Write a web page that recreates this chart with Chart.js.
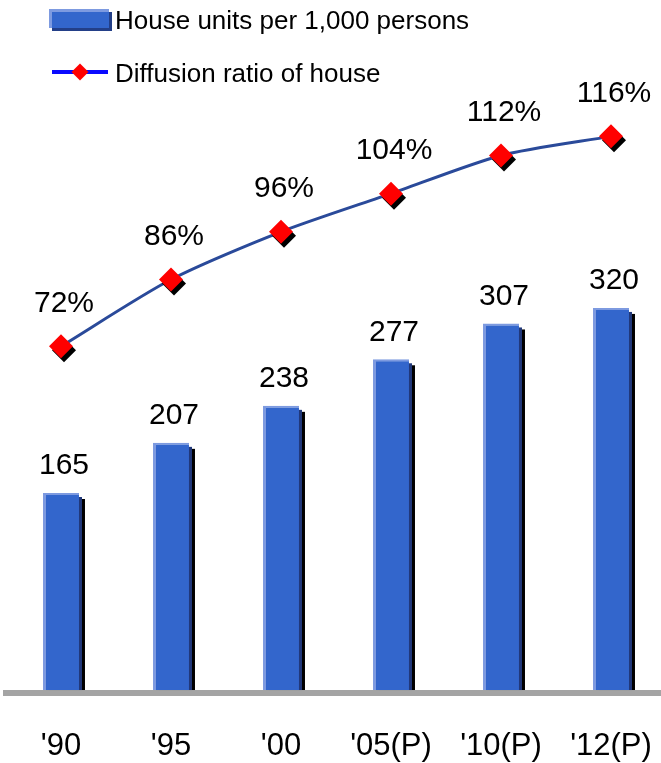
<!DOCTYPE html>
<html>
<head>
<meta charset="utf-8">
<script src="https://cdn.jsdelivr.net/npm/chart.js@4"></script>
<style>
  html, body { margin: 0; padding: 0; background: #fff; overflow: hidden; }
  body { width: 661px; height: 763px; position: relative; font-family: "Liberation Sans", Arial, sans-serif; }
  #chart { position: absolute; left: 0; top: 0; }
  .legend-item { position: absolute; left: 115px; font-size: 26px; line-height: 26px; color: #000; white-space: nowrap; }
  .swatch-bar { position: absolute; left: 49px; top: 9px; width: 60px; height: 19px; box-sizing: border-box;
    background: #3366cc; border-left: 3px solid #7d9ae0; border-top: 3px solid #7d9ae0; box-shadow: 3px 3px 0 #233f88; }
  .swatch-line { position: absolute; left: 52px; top: 70px; width: 56px; height: 4px; background: #0a0aff; }
  .swatch-dot { position: absolute; left: 74px; top: 66px; width: 12px; height: 12px; background: #ff0000; transform: rotate(45deg); }
</style>
</head>
<body>
<canvas id="chart" width="667" height="763"></canvas>
<div class="swatch-bar"></div>
<div class="legend-item" style="top:7px">House units per 1,000 persons</div>
<div class="swatch-line"></div>
<div class="swatch-dot"></div>
<div class="legend-item" style="top:60px">Diffusion ratio of house</div>
<script>
const years = ["'90", "'95", "'00", "'05(P)", "'10(P)", "'12(P)"];
const houseUnits = [165, 207, 238, 277, 307, 320];
const diffusionRatio = [72, 86, 96, 104, 112, 116];

const FONT = '"Liberation Sans", Arial, sans-serif';

// 3D-ish shadows behind the bars and the diamond markers
const shadowPlugin = {
  id: 'shadows',
  beforeDatasetDraw(chart, args) {
    const ds = chart.data.datasets[args.index];
    const ctx = chart.ctx;
    if (ds.type === 'bar') {
      args.meta.data.forEach((bar) => {
        const { x, y, base, width } = bar.getProps(['x', 'y', 'base', 'width'], true);
        const left = x - width / 2;
        ctx.fillStyle = '#000';
        ctx.fillRect(left + 6, y + 6, width, base - y - 6);
        ctx.fillStyle = '#21387a';
        ctx.fillRect(left + 3, y + 4, width, base - y - 4);
      });
    }
    if (ds.label === 'markers') {
      ctx.save();
      ctx.shadowColor = '#000';
      ctx.shadowOffsetX = 3;
      ctx.shadowOffsetY = 4;
      ctx.shadowBlur = 0;
    }
  },
  afterDatasetDraw(chart, args) {
    if (chart.data.datasets[args.index].label === 'markers') chart.ctx.restore();
  }
};

// value labels above bars and markers
const valueLabels = {
  id: 'valueLabels',
  afterDatasetsDraw(chart) {
    const ctx = chart.ctx;
    ctx.save();
    ctx.fillStyle = '#000';
    ctx.font = '30px ' + FONT;
    ctx.textAlign = 'center';
    ctx.textBaseline = 'middle';
    chart.data.datasets.forEach((ds, i) => {
      const meta = chart.getDatasetMeta(i);
      if (ds.type === 'bar') {
        meta.data.forEach((el, j) => ctx.fillText(String(ds.data[j]), el.x + 3, el.y - 27));
      } else if (ds.label === 'markers') {
        meta.data.forEach((el, j) => ctx.fillText(ds.data[j] + '%', el.x + 3, el.y - 43));
      }
    });
    ctx.restore();
  }
};

new Chart(document.getElementById('chart'), {
  data: {
    labels: years,
    datasets: [
      {
        type: 'bar',
        label: 'House units per 1,000 persons',
        data: houseUnits,
        yAxisID: 'y',
        backgroundColor: '#3366cc',
        borderColor: '#7d9ae0',
        borderWidth: { left: 3, top: 2, right: 0, bottom: 0 },
        borderSkipped: false,
        categoryPercentage: 1,
        barPercentage: 0.327,
        order: 3
      },
      {
        type: 'line',
        label: 'Diffusion ratio of house',
        data: diffusionRatio,
        yAxisID: 'y2',
        borderColor: '#2a4a9a',
        borderWidth: 3,
        tension: 0.25,
        pointRadius: 0,
        fill: false,
        order: 2
      },
      {
        type: 'line',
        label: 'markers',
        data: diffusionRatio,
        yAxisID: 'y2',
        showLine: false,
        pointStyle: 'rectRot',
        pointRadius: 12,
        pointBackgroundColor: '#ff0000',
        pointBorderWidth: 0,
        order: 1
      }
    ]
  },
  options: {
    responsive: false,
    animation: false,
    devicePixelRatio: 1,
    layout: { autoPadding: false, padding: { left: 6, right: 1, top: 0, bottom: 0 } },
    plugins: {
      legend: { display: false },
      tooltip: { enabled: false }
    },
    scales: {
      x: {
        grid: { display: false, drawTicks: false, tickLength: 0 },
        border: { display: true, color: '#a4a4a4', width: 6 },
        ticks: { color: '#000', font: { family: FONT, size: 31 }, padding: 35, maxRotation: 0, autoSkip: false },
        afterFit(scale) {
          // fixed axis band; labels never push the plot inwards
          scale.height = 70;
          scale.paddingLeft = 0;
          scale.paddingRight = 0;
        }
      },
      y: { display: false, min: -2.5, max: 577.9 },
      y2: { display: false, min: -0.63, max: 144.57 }
    }
  },
  plugins: [shadowPlugin, valueLabels]
});
</script>
</body>
</html>
